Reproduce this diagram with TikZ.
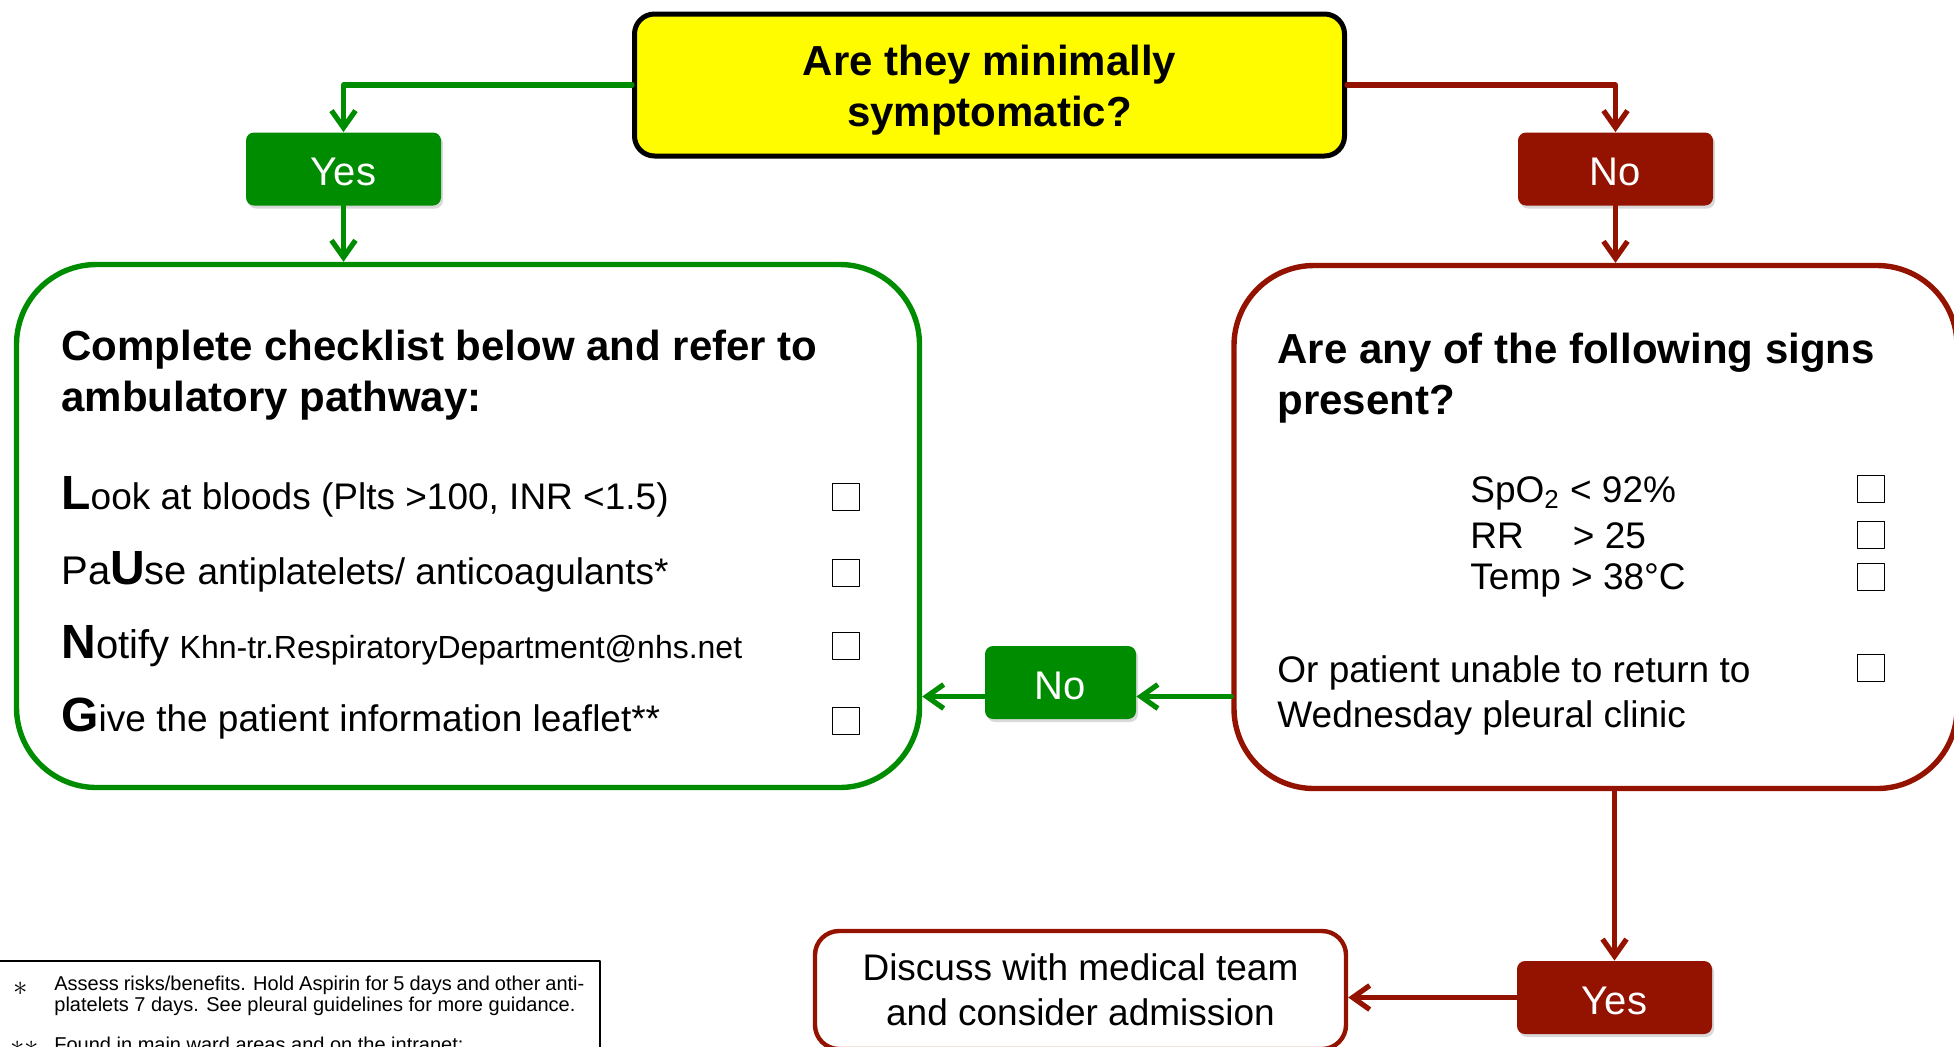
\documentclass[tikz,border=0pt]{standalone}
\usepackage{fontspec}
\setmainfont{Liberation Sans}
\usepackage{pgf,tikz}
\usetikzlibrary{arrows.meta,shadows}
\definecolor{qqccqq}{rgb}{0,0.55,0}
\definecolor{ccqqqq}{rgb}{0.58,0.07,0}
\definecolor{ffffqq}{rgb}{1,0.99,0}
\newcommand{\capit}[1]{{\fontsize{24}{24}\selectfont\bfseries #1}}
\tikzset{
  answer/.style={rounded corners=4pt,minimum width=97.5pt,minimum height=36.5pt,inner sep=0pt,text=white,
    text height=16.8pt,text depth=0pt,
    font=\fontsize{20}{24}\selectfont,drop shadow={opacity=0.3,shadow xshift=1pt,shadow yshift=-1.5pt}},
  greentag/.style={answer,fill=qqccqq},
  redtag/.style={answer,fill=ccqqqq},
  bigbox/.style={draw,line width=2.7pt,rounded corners=40pt,fill=white},
  tickbox/.style={draw,line width=0.6pt,minimum size=13.5pt,inner sep=0pt},
  body/.style={anchor=west,inner sep=0pt,align=left,font=\fontsize{18.5}{22.5}\selectfont},
  head/.style={anchor=west,inner sep=0pt,align=left,font=\fontsize{21}{25.5}\selectfont\bfseries},
  link/.style={->,line width=2.6pt}
}
\begin{document}
\begin{tikzpicture}[line cap=round,line join=round,>={Straight Barb[length=8.5pt,width=12pt]},x=0.5pt,y=-0.5pt]
\useasboundingbox (0,0) rectangle (1954,1046);
\node [draw,line width=2.5pt,fill=ffffqq,rounded corners=10pt,minimum width=355pt,minimum height=71pt] (q) at (989.5,85) {};
\node [align=center,inner sep=0pt,font=\fontsize{21}{25.5}\selectfont\bfseries] (qtext) at (989.5,90) {Are they minimally\\symptomatic?};
\node [greentag] (yes1) at (343.5,169) {Yes};
\node [redtag] (no1) at (1615.5,169) {No};
\node [bigbox,draw=qqccqq,minimum width=451.5pt,minimum height=261.5pt] (amb) at (468,526) {};
\node [bigbox,draw=ccqqqq,minimum width=361.5pt,minimum height=261.5pt] (signs) at (1595.5,527) {};
\node [greentag,minimum width=75.5pt] (no2) at (1060.5,682.5) {No};
\node [redtag] (yes2) at (1614.5,997.5) {Yes};
\node [draw=ccqqqq,line width=2.2pt,rounded corners=12pt,minimum width=265.5pt,minimum height=59pt,align=center,
  font=\fontsize{18.5}{22.5}\selectfont] (adm) at (1080.5,990) {Discuss with medical team\\and consider admission};
% connectors
\draw [link,color=qqccqq] (q.west) -| (yes1.north);
\draw [link,color=ccqqqq] (q.east) -| (no1.north);
\draw [link,color=qqccqq] (yes1.south) -- (yes1.south |- amb.north);
\draw [link,color=ccqqqq] (no1.south) -- (no1.south |- signs.north);
\coordinate (noin) at ([yshift=-7pt]no2.east);
\coordinate (noout) at ([yshift=-7pt]no2.west);
\draw [link,color=qqccqq] (noin -| signs.west) -- (noin);
\draw [link,color=qqccqq] (noout) -- (noout -| amb.east);
\draw [link,color=ccqqqq] (yes2.north |- signs.south) -- (yes2.north);
\draw [link,color=ccqqqq] (yes2.west) -- (yes2.west -| adm.east);
% ambulatory checklist
\node [head] (ambhead) at (61,375) {Complete checklist below and refer to\\ambulatory pathway:};
\node [body] (look) at (61,497) {\capit{L}ook at bloods (Plts >100, INR <1.5)};
\node [body] (pause) at (61,572) {{\fontsize{20}{24}\selectfont Pa\capit{U}se} antiplatelets/ anticoagulants*};
\node [body] (notify) at (61,646) {\capit{N}{\fontsize{20}{24}\selectfont otify} {\fontsize{16}{20}\selectfont Khn-tr.RespiratoryDepartment@nhs.net}};
\node [body] (give) at (61,719) {\capit{G}ive the patient information leaflet**};
\foreach \y in {497,573,646,721}
\node [tickbox] (a\y) at (846,\y) {};
% signs
\node [head] (signhead) at (1277,378.5) {Are any of the following signs\\present?};
\node [body] (spo) at (1470,493) {SpO\textsubscript{2} < 92\%};
\node [body] (rr) at (1470,536) {RR\hspace{1.05em} > 25};
\node [body] (temp) at (1470,580) {Temp > 38°C};
\node [body] (unable) at (1277,695.5) {Or patient unable to return to\\Wednesday pleural clinic};
\foreach \y in {489,535,577,668}
\node [tickbox] (s\y) at (1871,\y) {};
% footnotes
\draw [line width=0.6pt] (-5,961) rectangle (600,1100);
\begin{scope}[font=\fontsize{10}{10.5}\selectfont]
\node [anchor=center,inner sep=0pt,font=\fontsize{15}{15}\selectfont] (ast1) at (21,989) {$\ast$};
\node [anchor=north west,inner sep=0pt,text width=265pt,align=justify] (fn1) at (54,976)
  {Assess risks/benefits. Hold Aspirin for 5 days and other anti-\linebreak platelets 7 days. See pleural guidelines for more guidance.};
\node [anchor=center,inner sep=0pt,font=\fontsize{15}{15}\selectfont] (ast2) at (25,1048) {$\ast\ast$};
\node [anchor=north west,inner sep=0pt] (fn2) at (54,1037) {Found in main ward areas and on the intranet:};
\end{scope}
\end{tikzpicture}
\end{document}
